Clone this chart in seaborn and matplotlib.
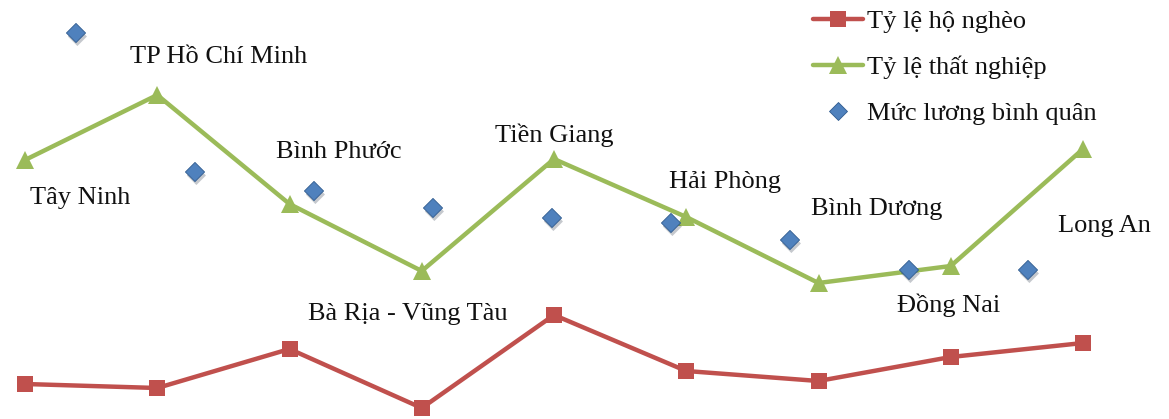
import matplotlib
matplotlib.use("Agg")
import matplotlib.pyplot as plt
import matplotlib.patheffects as pe
from matplotlib.lines import Line2D
import seaborn as sns
import pandas as pd

provinces = ["Tây Ninh", "TP Hồ Chí Minh", "Bình Phước", "Bà Rịa - Vũng Tàu",
             "Tiền Giang", "Hải Phòng", "Bình Dương", "Đồng Nai", "Long An"]
poverty_rate = [35, 31, 70, 11, 104, 48, 38, 62, 76]
unemployment_rate = [259, 324, 215, 148, 260, 202, 136, 153, 270]
average_wage = [386, 247, 228, 211, 201, 196, 179, 149, 149]

# label offsets (pixels) from each unemployment point
label_dx = [55, 61, 49, -14, 0, 39, 58, -2, 21]
label_dy = [-38, 38, 52, -43, 24, 35, 74, -39, -77]

RED = "#C0504D"
GREEN = "#9BBB59"
BLUE = "#4F81BD"
FS = 19

sns.set_theme(style="white")
plt.rcParams["font.family"] = ["Liberation Serif", "DejaVu Serif"]

df = pd.DataFrame({
    "idx": range(len(provinces)),
    "province": provinces,
    "poverty": poverty_rate,
    "unemployment": unemployment_rate,
    "wage": average_wage,
})

fig = plt.figure(figsize=(11.69, 4.19), dpi=100)
ax = fig.add_axes([0, 0, 1, 1])
ax2 = fig.add_axes([0, 0, 1, 1], sharey=ax)
ax2.patch.set_visible(False)

sns.lineplot(data=df, x="idx", y="poverty", ax=ax, color=RED, lw=3.2,
             marker="s", markersize=11.5, markeredgewidth=0, clip_on=False)
sns.lineplot(data=df, x="idx", y="unemployment", ax=ax, color=GREEN, lw=3.2,
             marker="^", markersize=13, markeredgewidth=0, clip_on=False)
sns.scatterplot(data=df, x="idx", y="wage", ax=ax2, color=BLUE, marker="D",
                s=95, edgecolor="#2E5A8E", linewidth=0.6, clip_on=False,
                path_effects=[pe.SimplePatchShadow(offset=(1, -2.5), alpha=0.25),
                              pe.Normal()])

n = len(provinces)
ax.set_xlim(-25 / 132.25, (n - 1) + (1169 - 1083) / 132.25)
ax2.set_xlim(-76 / 119, (1169 - 76) / 119)
ax.set_ylim(0, 419)

for i, name in enumerate(provinces):
    ax.annotate(name, (i, unemployment_rate[i]),
                xytext=(label_dx[i], label_dy[i]), textcoords="offset pixels",
                ha="center", va="center", fontsize=FS, color="#111111")

for a in (ax, ax2):
    a.set_axis_off()

handles = [
    Line2D([], [], color=RED, lw=3.2, marker="s", markersize=11.5, markeredgewidth=0),
    Line2D([], [], color=GREEN, lw=3.2, marker="^", markersize=13, markeredgewidth=0),
    Line2D([], [], color=BLUE, lw=0, marker="D", markersize=9,
           markeredgecolor="#2E5A8E", markeredgewidth=0.6),
]
labels = ["Tỷ lệ hộ nghèo", "Tỷ lệ thất nghiệp", "Mức lương bình quân"]
leg = ax.legend(handles, labels, loc="upper left",
                bbox_to_anchor=(810 / 1169, 1 - 7 / 419),
                frameon=False, fontsize=FS, handlelength=1.9, handletextpad=0.15,
                labelspacing=0.86, borderaxespad=0.0, borderpad=0.1)
for t in leg.get_texts():
    t.set_color("#111111")

fig.savefig("out.png", dpi=100)
